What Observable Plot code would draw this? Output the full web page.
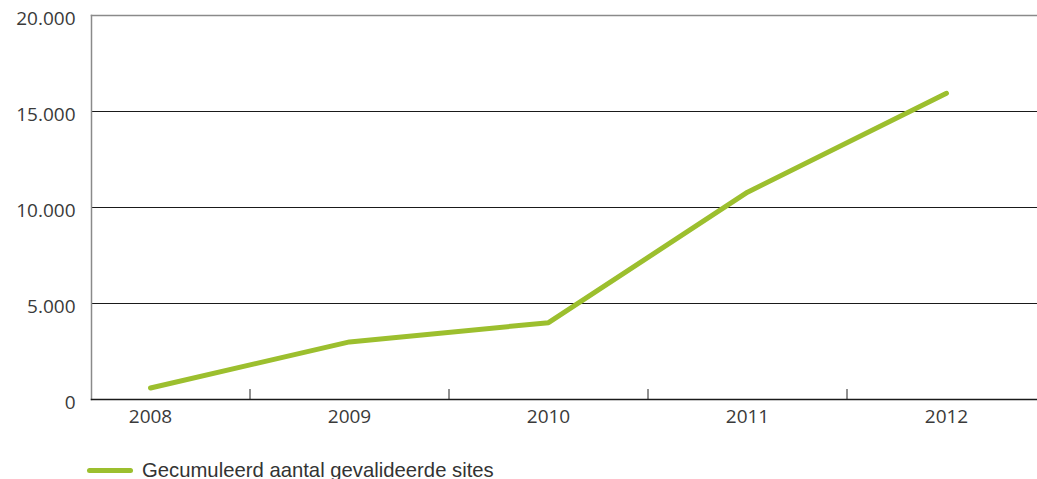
<!DOCTYPE html>
<html>
<head>
<meta charset="utf-8">
<script src="https://cdn.jsdelivr.net/npm/d3@7"></script>
<script src="https://cdn.jsdelivr.net/npm/@observablehq/plot@0.6"></script>
<style>
  html, body { margin: 0; padding: 0; background: #fff; overflow: hidden; }
  #chart svg { display: block; }
  .legend { display: flex; align-items: center; height: 26px; line-height: 26px; padding-left: 87px; margin-top: 17px;
            font-family: "Liberation Sans", Arial, sans-serif; font-size: 20.3px; color: #333; }
  .legend .swatch { width: 46px; height: 5px; border-radius: 3px; background: #9cbf2e; margin-right: 9px; }
</style>
</head>
<body>
<div id="chart"></div>
<script>
const years = [2008, 2009, 2010, 2011, 2012];
const values = [600, 3000, 4000, 10800, 15950];
const yTicks = [0, 5000, 10000, 15000, 20000];
const seriesName = "Gecumuleerd aantal gevalideerde sites";

const data = years.map((year, i) => ({year, value: values[i]}));
const mids = d3.pairs(years).map(([a, b]) => (a + b) / 2);
const nl = d3.formatLocale({decimal: ",", thousands: ".", grouping: [3], currency: ["€", ""]});
const fmt = nl.format(",d");

const chart = Plot.plot({
  width: 1037,
  height: 440,
  marginLeft: 91,
  marginRight: 0,
  marginTop: 15,
  marginBottom: 41,
  style: {fontFamily: "'Open Sans', sans-serif", fontSize: "19px", color: "#3a3a3a", background: "#fff"},
  x: {domain: [2008, 2012], range: [150, 946]},
  y: {domain: [0, 20000]},
  marks: [
    Plot.ruleY(yTicks.filter(d => d > 0 && d < 20000), {stroke: "#1a1a1a", strokeWidth: 1}),
    Plot.frame({anchor: "top", stroke: "#8a8a8a", strokeWidth: 1.5}),
    Plot.frame({anchor: "left", stroke: "#8a8a8a", strokeWidth: 1.5}),
    Plot.ruleX(mids, {x: d => d, y1: 0, y2: 0, insetTop: -10, stroke: "#222", strokeWidth: 1}),
    Plot.frame({anchor: "bottom", stroke: "#1a1a1a", strokeWidth: 1.5}),
    Plot.axisX(years, {tickSize: 0, tickPadding: 10, tickFormat: d => String(d), fill: "#3a3a3a", label: null}),
    Plot.axisY(yTicks, {tickSize: 0, tickPadding: 16, dy: 3, tickFormat: fmt, fill: "#3a3a3a", label: null}),
    Plot.line(data, {x: "year", y: "value", stroke: "#9cbf2e", strokeWidth: 5, strokeLinecap: "round", strokeLinejoin: "miter"})
  ]
});
document.getElementById("chart").appendChild(chart);

const legend = document.createElement("div");
legend.className = "legend";
legend.innerHTML = `<span class="swatch"></span><span>${seriesName}</span>`;
document.body.appendChild(legend);
</script>
</body>
</html>
